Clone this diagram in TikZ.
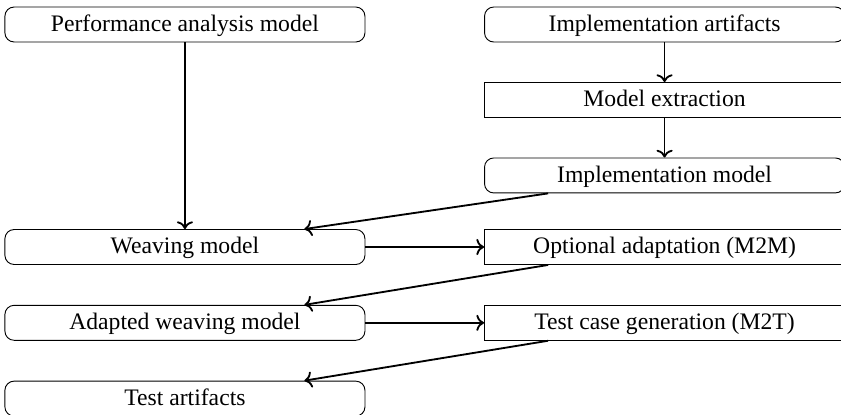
\documentclass[tikz,border=0pt]{standalone}
\usepackage{fontspec}
\setmainfont{Liberation Serif}
\usetikzlibrary{arrows.meta, positioning, calc}

\begin{document}
\begin{tikzpicture}[
                model/.style={rectangle, draw, rounded corners=4pt, minimum width=5.51cm, minimum height=0.535cm, inner sep=0pt, text height=8.2pt, text depth=2.3pt, align=center, font=\fontsize{10.3}{12}\selectfont},
                trafo/.style={model, sharp corners}
            ]
                \useasboundingbox (0,0) rectangle (12.87,-6.35);

                \node[model] (perf) at (2.83,-0.375) {Performance analysis model};
                \node[model] (implart) at (10.17,-0.375) {Implementation artifacts};
                \node[trafo] (extract) at (10.17,-1.53) {Model extraction};
                \node[model] (implmod) at (10.17,-2.685) {Implementation model};

                \node[model] (weave) at (2.83,-3.78) {Weaving model};
                \node[trafo] (adapt) at (10.17,-3.78) {Optional adaptation (M2M)};
                \node[model] (adweave) at (2.83,-4.94) {Adapted weaving model};
                \node[trafo] (gen) at (10.17,-4.94) {Test case generation (M2T)};
                \node[model] (testart) at (2.83,-6.10) {Test artifacts};

                \draw[->, thick] (perf) -- (weave);
                \draw[->, thick] (implart) -- (extract);
                \draw[->, thick] (extract) -- (implmod);
                \draw[->, thick] ([xshift=0.98cm]implmod.south west) -- ([xshift=4.59cm]weave.north west);
                \draw[->, thick] (weave) -- (adapt);
                \draw[->, thick] ([xshift=0.98cm]adapt.south west) -- ([xshift=4.59cm]adweave.north west);
                \draw[->, thick] (adweave) -- (gen);
                \draw[->, thick] ([xshift=0.98cm]gen.south west) -- ([xshift=4.59cm]testart.north west);
            \end{tikzpicture}
\end{document}
